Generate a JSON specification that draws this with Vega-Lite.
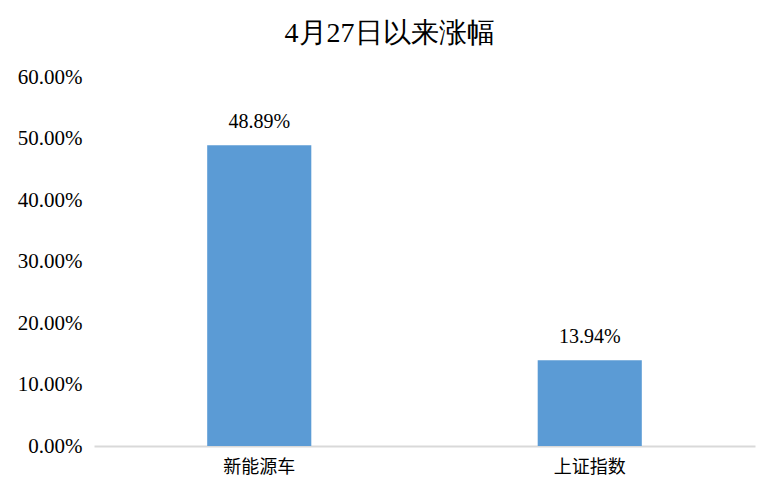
{
  "$schema": "https://vega.github.io/schema/vega-lite/v6.json",
  "autosize": "none",
  "width": 661,
  "height": 369,
  "padding": {"left": 94, "top": 77, "right": 23, "bottom": 49},
  "background": "white",
  "title": {
    "text": "4月27日以来涨幅",
    "font": "Liberation Serif",
    "fontSize": 28,
    "fontWeight": "normal",
    "color": "#000000",
    "anchor": "middle",
    "dx": -35,
    "offset": 18
  },
  "data": {
    "values": [
      {"name": "新能源车", "value": 0.4889},
      {"name": "上证指数", "value": 0.1394}
    ]
  },
  "encoding": {
    "x": {
      "field": "name",
      "type": "nominal",
      "sort": null,
      "scale": {"paddingInner": 0.685, "paddingOuter": 0.3425},
      "axis": {
        "title": null,
        "labelAngle": 0,
        "labelFont": "Noto Sans CJK SC",
        "labelFontSize": 18,
        "labelColor": "#000000",
        "labelPadding": 12,
        "ticks": false,
        "domainColor": "#d9d9d9",
        "domainWidth": 2
      }
    },
    "y": {
      "field": "value",
      "type": "quantitative",
      "scale": {"domain": [0, 0.6], "nice": false},
      "axis": {
        "title": null,
        "format": ".2%",
        "values": [0, 0.1, 0.2, 0.3, 0.4, 0.5, 0.6],
        "labelFont": "Liberation Serif",
        "labelFontSize": 21,
        "labelColor": "#000000",
        "labelPadding": 12,
        "ticks": false,
        "domain": false,
        "grid": false
      }
    }
  },
  "layer": [
    {"mark": {"type": "bar", "color": "#5B9BD5"}},
    {
      "mark": {
        "type": "text",
        "baseline": "alphabetic",
        "dy": -17,
        "font": "Liberation Serif",
        "fontSize": 20,
        "color": "#000000"
      },
      "encoding": {"text": {"field": "value", "type": "quantitative", "format": ".2%"}}
    }
  ],
  "config": {"view": {"stroke": null}}
}
